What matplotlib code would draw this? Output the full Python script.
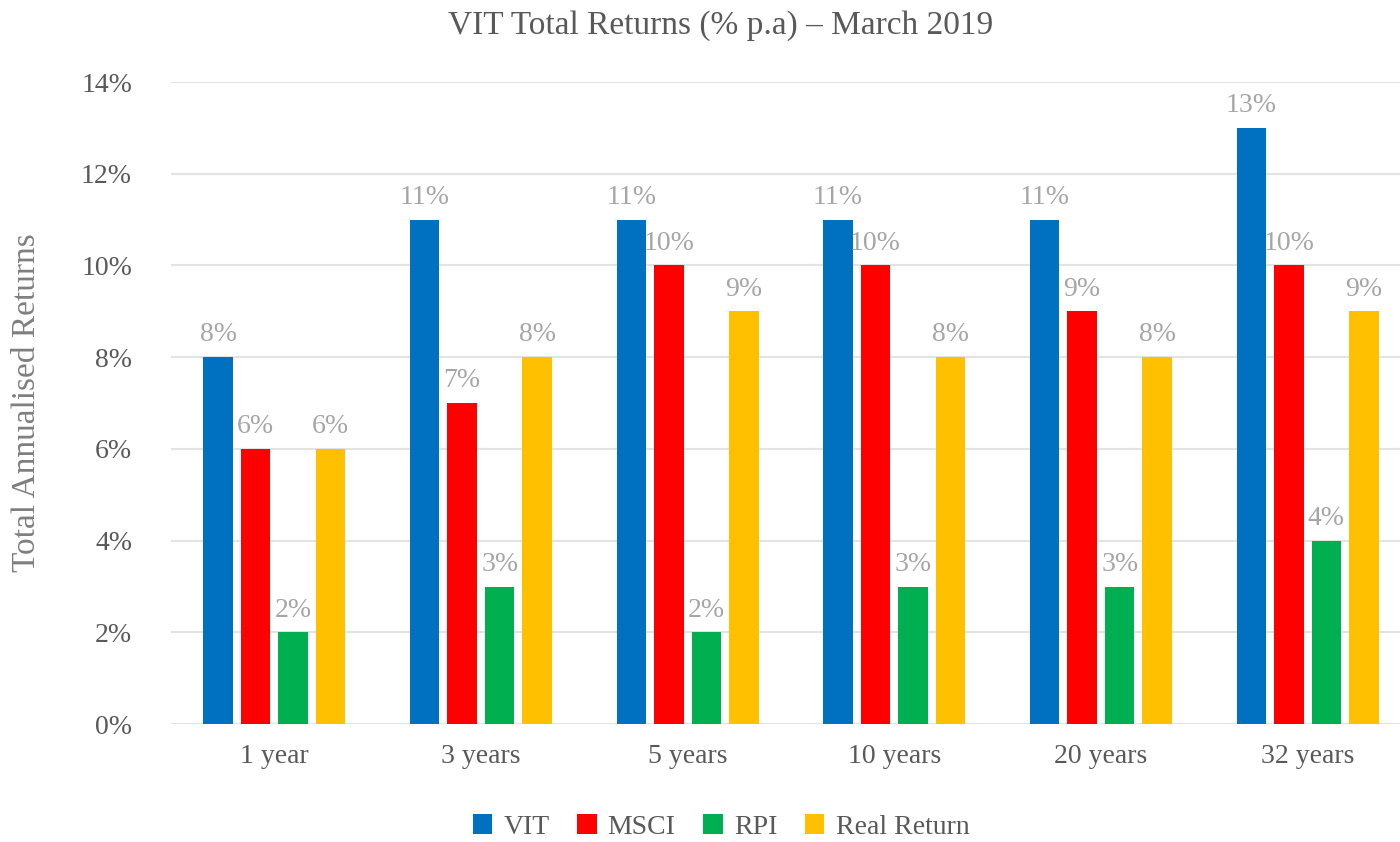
import numpy as np
import matplotlib.pyplot as plt

plt.rcParams["font.family"] = ["Liberation Serif", "DejaVu Serif"]

CATEGORIES = ["1 year", "3 years", "5 years", "10 years", "20 years", "32 years"]
SERIES = ["VIT", "MSCI", "RPI", "Real Return"]
VIT = [8, 11, 11, 11, 11, 13]
MSCI = [6, 7, 10, 10, 9, 10]
RPI = [2, 3, 2, 3, 3, 4]
REAL = [6, 8, 9, 8, 8, 9]
COLORS = ["#0070C0", "#FF0000", "#00B050", "#FFC000"]


def main():
    fig = plt.figure(figsize=(14, 8.42), dpi=100)
    # category pitch ~207 px, axes runs past the right edge like the original
    ax = fig.add_axes([0.1221, 0.140, 0.8857, 0.7626])

    x = np.arange(len(CATEGORIES))
    step = 0.1815
    width = 0.143
    for i, (name, vals) in enumerate(zip(SERIES, [VIT, MSCI, RPI, REAL])):
        offset = (i - 1.5) * step
        rects = ax.bar(x + offset, vals, width, color=COLORS[i], label=name, zorder=3)
        for r, v in zip(rects, vals):
            ax.annotate(f"{v}%", xy=(r.get_x() + r.get_width() / 2, v),
                        xytext=(0, 7), textcoords="offset points",
                        ha="center", va="bottom", fontsize=20, color="#A6A6A6")

    ax.set_xlim(-0.5, len(CATEGORIES) - 0.5)
    ax.set_ylim(0, 14)
    ax.set_yticks(np.arange(0, 15, 2))
    ax.set_yticklabels([f"{t}%" for t in range(0, 15, 2)], fontsize=20, color="#595959")
    ax.set_xticks(x)
    ax.set_xticklabels(CATEGORIES, fontsize=20, color="#595959")
    ax.tick_params(length=0, pad=14)
    ax.tick_params(axis="y", pad=28)
    for s in ax.spines.values():
        s.set_visible(False)
    ax.grid(axis="y", color="#E3E3E3", linewidth=1.5, zorder=0)
    ax.set_ylabel("Total Annualised Returns", fontsize=24, color="#7F7F7F", labelpad=28)
    fig.text(0.515, 0.970, "VIT Total Returns (% p.a) \u2013 March 2019",
             ha="center", va="center", fontsize=24, color="#595959")
    fig.legend(loc="center", bbox_to_anchor=(0.515, 0.018), ncol=4, frameon=False,
               fontsize=20, handlelength=0.7, handleheight=0.7, columnspacing=1.0,
               handletextpad=0.4, labelcolor="#595959")

    fig.savefig("out.png", dpi=100)
    plt.close(fig)


if __name__ == "__main__":
    main()
